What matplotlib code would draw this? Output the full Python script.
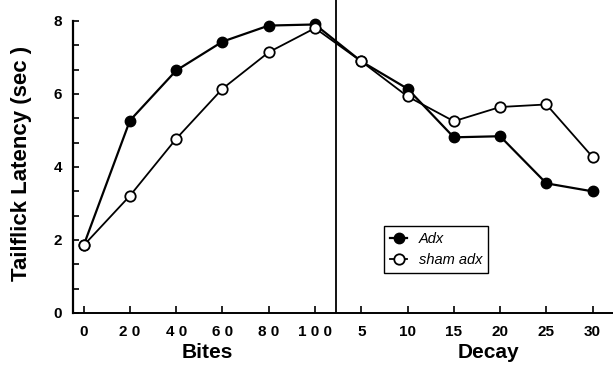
import numpy as np
import matplotlib
matplotlib.use("Agg")
import matplotlib.pyplot as plt
from matplotlib.ticker import MultipleLocator

plt.rcParams['font.family'] = ['Liberation Sans', 'DejaVu Sans']

# data
bites = [0, 20, 40, 60, 80, 100]
decay = [5, 10, 15, 20, 25, 30]
adx_bites = [1.85, 5.27, 6.64, 7.43, 7.87, 7.90]
adx_decay = [6.89, 6.14, 4.81, 4.84, 3.55, 3.33]
sham_bites = [1.85, 3.21, 4.77, 6.14, 7.14, 7.80]
sham_decay = [6.89, 5.93, 5.25, 5.64, 5.71, 4.27]
bite_labels = ["0", "2 0", "4 0", "6 0", "8 0", "1 0 0"]
decay_labels = ["5", "10", "15", "20", "25", "30"]
yticks = [0, 2, 4, 6, 8]

# bites and decay share one axis: 20 bites = 5 min of decay = one step
xb = np.array(bites) / 20.0
xd = 5 + np.array(decay) / 5.0
x = np.concatenate([xb, xd])
adx = adx_bites + adx_decay
sham = sham_bites + sham_decay

fig = plt.figure(figsize=(6.13, 3.68), dpi=100)
ax = fig.add_axes([73/613, 1 - 313/368, 1 - 73/613, 313/368])

ax.plot(x, adx, color="black", lw=1.6, marker="o", ms=7.5,
        mfc="black", mec="black", label="Adx", zorder=3)
ax.plot(x, sham, color="black", lw=1.3, marker="o", ms=7.5,
        mfc="white", mec="black", mew=1.3, label="sham adx", zorder=3)

ax.axvline(5.46, color="black", lw=1.3)

ax.set_xlim(-0.23, 11.44)
ax.set_ylim(0, 8.57)

for s in ["top", "right"]:
    ax.spines[s].set_visible(False)
ax.spines["left"].set_bounds(0, 8)
ax.spines["left"].set_linewidth(1.6)
ax.spines["bottom"].set_linewidth(1.4)

ax.set_yticks(yticks)
ax.set_yticklabels([str(v) for v in yticks], fontweight="bold", fontsize=11)
ax.yaxis.set_minor_locator(MultipleLocator(2/3))
ax.tick_params(axis="y", which="both", direction="in", length=4, width=1.2, pad=8)

ax.set_xticks(list(xb) + list(xd))
ax.set_xticklabels(bite_labels + decay_labels, fontweight="bold", fontsize=11)
ax.tick_params(axis="x", direction="in", length=5, width=1.2, pad=9)

ax.annotate("Bites", xy=(2.67, 0), xycoords=("data", "figure fraction"),
            xytext=(0, 11), textcoords="offset points",
            ha="center", va="center", fontsize=15, fontweight="bold")
ax.annotate("Decay", xy=(8.74, 0), xycoords=("data", "figure fraction"),
            xytext=(0, 11), textcoords="offset points",
            ha="center", va="center", fontsize=15, fontweight="bold")
fig.text(22/613, 1 - 163/368, "Tailflick Latency (sec )", rotation=90,
         ha="center", va="center", fontsize=16, fontweight="bold")

leg = ax.legend(loc="lower left", bbox_to_anchor=(0.576, 0.128),
                borderaxespad=0, fancybox=False, framealpha=1,
                edgecolor="black", handlelength=1.2, handletextpad=0.8,
                prop={"style": "italic", "size": 10.5})
leg.get_frame().set_linewidth(1.0)

fig.savefig("out.png", dpi=100)
